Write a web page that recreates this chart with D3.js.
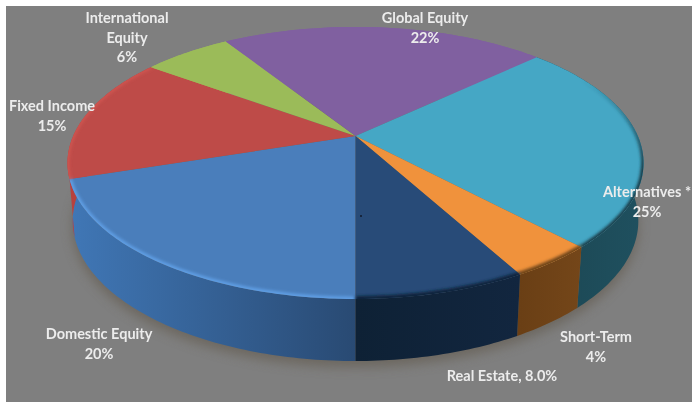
<!DOCTYPE html>
<html>
<head>
<meta charset="utf-8">
<script src="https://cdnjs.cloudflare.com/ajax/libs/d3/7.8.5/d3.min.js"></script>
<style>
    html, body { margin: 0; padding: 0; background: #fff; }
    svg { display: block; filter: blur(0.45px); }
    text { font-family: Lato, "Open Sans", sans-serif; font-weight: 700; font-size: 14.5px; fill: #ececec; text-anchor: middle; }
</style>
</head>
<body>
<div id="canvas"></div>
<script>
// datos, en orden horario desde las 6
var categorias = ["Domestic Equity", "Fixed Income", "International Equity", "Global Equity", "Alternatives *", "Short-Term", "Real Estate"];
var valores = [20, 15, 6, 22, 25, 4, 8];
var etiquetas = [
    ["Domestic Equity", "20%"],
    ["Fixed Income", "15%"],
    ["International", "Equity", "6%"],
    ["Global Equity", "22%"],
    ["Alternatives *", "25%"],
    ["Short-Term", "4%"],
    ["Real Estate, 8.0%"]
];

// aspecto de cada porcion
var coloresTop = ["#4a7ebb", "#be4b48", "#9bbb59", "#8060a0", "#45a7c5", "#f0923c", "#284b78"];
var coloresLado = [["#4077b6", "#294a73"], ["#b8413e", "#b8413e"], ["#9bbb59", "#9bbb59"], ["#8060a0", "#8060a0"],
    ["#1c4753", "#1f505f"], ["#6a3f15", "#744619"], ["#0e2135", "#12263f"]];
var coloresBorde = ["#5f9ee4", "#cf5450", "#9bbb59", "#8060a0", "url(#biselAlt)", "#6e4418", "#10233a"];
var anchoBorde = [5, 4, 0, 0, 5, 6, 6];
var posEtiquetas = [[99, 334], [52, 106], [127, 18], [425, 18], [647, 192], [596, 337], [502, 376]];

var width = 692;
var height = 402;
var k = 0.198; // perspectiva: el vertice no cae en el centro de la elipse
var grosor = 58;

var x = d3.scaleLinear().domain([-1, 1]).range([355.5 - 282.3, 355.5 + 282.3]);
var y = d3.scaleLinear().domain([-1, 1]).range([136 - 130.7, 136 + 130.7]);

// angulo 0 = arriba, horario
function proyecta(a) {
    var u = Math.sin(a), v = -Math.cos(a), w = 1 - k * v;
    return [x(u / w), y(v / w)];
}
// borde inferior del cilindro
function proyectaBase(a) {
    var p = proyecta(a);
    return [355.5 + (p[0] - 355.5) * 0.982, 163 + grosor + (p[1] - 163) * 1.03];
}
function muestras(a0, a1, f) {
    var n = Math.max(2, Math.ceil(Math.abs(a1 - a0) * 60));
    return d3.range(n + 1).map(function (i) { return f(a0 + (a1 - a0) * i / n); });
}

var pie = d3.pie().sort(null).startAngle(Math.PI).endAngle(3 * Math.PI);
var porciones = pie(valores);
var linea = d3.line();

var svg = d3.select("#canvas").append("svg")
    .attr("width", width)
    .attr("height", height);

var defs = svg.append("defs");
defs.append("filter").attr("id", "sombra").attr("x", "-20%").attr("y", "-20%").attr("width", "140%").attr("height", "140%")
    .append("feGaussianBlur").attr("stdDeviation", 6);
defs.append("filter").attr("id", "bisel").attr("filterUnits", "userSpaceOnUse")
    .attr("x", 0).attr("y", 0).attr("width", width).attr("height", height)
    .append("feGaussianBlur").attr("stdDeviation", 1.4);
defs.append("clipPath").attr("id", "tapa").append("path")
    .attr("d", linea(muestras(0, 2 * Math.PI, proyecta)) + "Z");

// el borde oscuro de Alternatives solo aparece en la parte delantera
var gradAlt = defs.append("linearGradient").attr("id", "biselAlt")
    .attr("gradientUnits", "userSpaceOnUse")
    .attr("x1", 0).attr("x2", 0).attr("y1", 80).attr("y2", 170);
gradAlt.append("stop").attr("offset", 0).attr("stop-color", "#173b47").attr("stop-opacity", 0);
gradAlt.append("stop").attr("offset", 1).attr("stop-color", "#173b47").attr("stop-opacity", 1);

// fondo gris con el margen blanco de la captura
svg.append("rect")
    .attr("x", 6).attr("y", 6)
    .attr("width", width - 6).attr("height", height - 6)
    .attr("fill", "#7f7f7f");

// sombra
svg.append("path")
    .attr("d", linea(muestras(0, 2 * Math.PI, proyectaBase)) + "Z")
    .attr("transform", "translate(0,6)")
    .attr("fill", "#5f574a")
    .attr("opacity", 0.6)
    .attr("filter", "url(#sombra)");

// costados
porciones.forEach(function (d, i) {
    var id = "lado" + i;
    var xs = muestras(d.startAngle, d.endAngle, proyecta).map(function (p) { return p[0]; });
    var g = defs.append("linearGradient").attr("id", id)
        .attr("gradientUnits", "userSpaceOnUse")
        .attr("x1", d3.min(xs)).attr("x2", d3.max(xs)).attr("y1", 0).attr("y2", 0);
    g.append("stop").attr("offset", 0).attr("stop-color", coloresLado[i][0]);
    g.append("stop").attr("offset", 1).attr("stop-color", coloresLado[i][1]);

    // el azul tapa casi todo el lateral rojo, por eso su base llega un poco mas lejos
    var extra = i === 0 ? 0.2 : 0;
    var arriba = muestras(d.startAngle, d.endAngle, proyecta);
    var abajo = muestras(d.endAngle + extra, d.startAngle, proyectaBase);
    svg.append("path")
        .attr("d", linea(arriba.concat(abajo)) + "Z")
        .attr("fill", "url(#" + id + ")");
});

// caras superiores
porciones.forEach(function (d, i) {
    var puntos = [[x(0), y(0)]].concat(muestras(d.startAngle, d.endAngle, proyecta));
    svg.append("path")
        .attr("d", linea(puntos) + "Z")
        .attr("fill", coloresTop[i]);
});

// bisel del borde
var bisel = svg.append("g").attr("clip-path", "url(#tapa)");
porciones.forEach(function (d, i) {
    if (!anchoBorde[i]) return;
    bisel.append("path")
        .attr("d", linea(muestras(d.startAngle, d.endAngle, proyecta)))
        .attr("fill", "none")
        .attr("stroke", coloresBorde[i])
        .attr("stroke-width", anchoBorde[i])
        .attr("filter", "url(#bisel)");
});

// punto suelto cerca del centro
svg.append("circle").attr("cx", 361).attr("cy", 216).attr("r", 1).attr("fill", "#10182a");

// etiquetas
var grupos = svg.selectAll(".etiqueta")
    .data(etiquetas)
    .enter().append("text")
    .attr("class", "etiqueta")
    .attr("transform", function (d, i) { return "translate(" + posEtiquetas[i][0] + "," + posEtiquetas[i][1] + ")"; });

grupos.selectAll("tspan")
    .data(function (d) { return d; })
    .enter().append("tspan")
    .attr("x", 0)
    .attr("y", function (d, i) { return i * 19.5 + 5; })
    .text(function (d) { return d; });
</script>
</body>
</html>
